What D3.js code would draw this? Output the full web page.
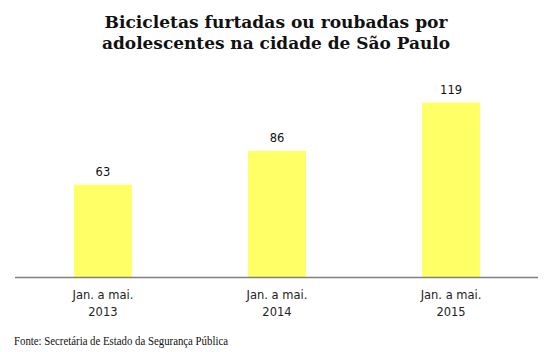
<!DOCTYPE html>
<html>
<head>
<meta charset="utf-8">
<script src="https://cdn.jsdelivr.net/npm/d3@7"></script>
<style>
  body { margin: 0; background: #fff; }
  svg { display: block; }
</style>
</head>
<body>
<div id="chart"></div>
<script>
// chart data
const periods = ["Jan. a mai.", "Jan. a mai.", "Jan. a mai."];
const years = ["2013", "2014", "2015"];
const values = [63, 86, 119];
const titleLines = ["Bicicletas furtadas ou roubadas por", "adolescentes na cidade de São Paulo"];
const source = "Fonte: Secretária de Estado da Segurança Pública";

const width = 553, height = 352;
const margin = { top: 60, right: 15, bottom: 75, left: 16 };

const svg = d3.select("#chart").append("svg")
    .attr("width", width)
    .attr("height", height);

const x = d3.scaleBand()
    .domain(years)
    .range([margin.left, width - margin.right])
    .paddingInner(0.667)
    .paddingOuter(0.333);

const y = d3.scaleLinear()
    .domain([0, 140])
    .range([height - margin.bottom, height - margin.bottom - 140 * 1.466]);

// title
svg.append("g").selectAll("text")
    .data(titleLines)
    .enter()
    .append("text")
    .attr("x", 276)
    .attr("y", (d, i) => 28 + i * 21)
    .attr("text-anchor", "middle")
    .attr("font-family", "DejaVu Serif")
    .attr("font-weight", "bold")
    .attr("font-size", 17)
    .attr("fill", "#111")
    .attr("textLength", (d, i) => i === 0 ? 343 : 348)
    .attr("lengthAdjust", "spacingAndGlyphs")
    .text(d => d);

// bars
svg.selectAll(".bar")
    .data(values)
    .enter()
    .append("rect")
    .attr("class", "bar")
    .attr("x", (d, i) => x(years[i]))
    .attr("y", d => y(d))
    .attr("width", x.bandwidth())
    .attr("height", d => y(0) - y(d))
    .attr("fill", "#ffff66");

// value labels
svg.selectAll(".val")
    .data(values)
    .enter()
    .append("text")
    .attr("class", "val")
    .attr("x", (d, i) => x(years[i]) + x.bandwidth() / 2)
    .attr("y", d => y(d) - 9)
    .attr("text-anchor", "middle")
    .attr("font-family", "DejaVu Sans")
    .attr("font-size", 11.5)
    .attr("fill", "#111")
    .text(d => d);

// baseline
svg.append("line")
    .attr("x1", 15)
    .attr("x2", 538)
    .attr("y1", y(0) + 0.5)
    .attr("y2", y(0) + 0.5)
    .attr("stroke", "#808080")
    .attr("stroke-width", 1.5);

// category labels
const cat = svg.append("g").selectAll("text")
    .data(years)
    .enter()
    .append("text")
    .attr("x", d => x(d) + x.bandwidth() / 2)
    .attr("text-anchor", "middle")
    .attr("font-family", "DejaVu Sans")
    .attr("font-size", 11.5)
    .attr("fill", "#222");
cat.append("tspan")
    .attr("x", d => x(d) + x.bandwidth() / 2)
    .attr("y", 299)
    .text((d, i) => periods[i]);
cat.append("tspan")
    .attr("x", d => x(d) + x.bandwidth() / 2)
    .attr("y", 316)
    .text(d => d);

// source
svg.append("text")
    .attr("x", 14)
    .attr("y", 345)
    .attr("font-family", "Liberation Serif")
    .attr("font-size", 11.5)
    .attr("fill", "#111")
    .attr("textLength", 214)
    .attr("lengthAdjust", "spacingAndGlyphs")
    .text(source);
</script>
</body>
</html>
